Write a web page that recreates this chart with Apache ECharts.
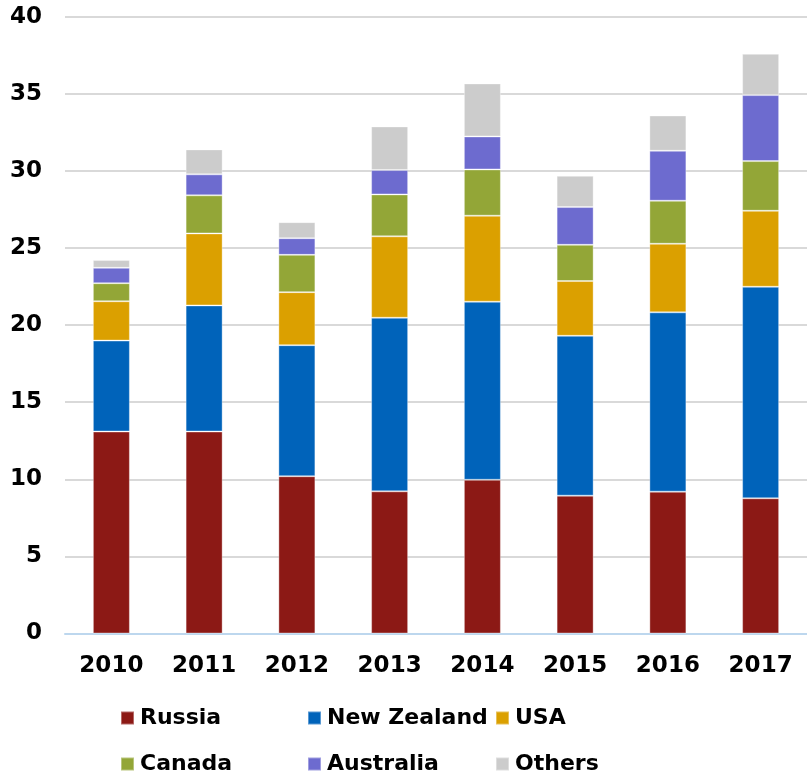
<!DOCTYPE html>
<html>
<head>
<meta charset="utf-8">
<script src="https://cdn.jsdelivr.net/npm/echarts@6/dist/echarts.min.js"></script>
<style>html,body{margin:0;padding:0;background:#fff}#c{width:807px;height:776px}</style>
</head>
<body>
<div id="c"></div>
<script>
var years = ['2010','2011','2012','2013','2014','2015','2016','2017'];
var seriesNames = ['Russia','New Zealand','USA','Canada','Australia','Others'];
var russia     = [13.1, 13.1, 10.2, 9.22, 9.97, 8.94, 9.2, 8.77];
var newZealand = [5.9, 8.18, 8.5, 11.26, 11.55, 10.37, 11.63, 13.72];
var usa        = [2.55, 4.67, 3.44, 5.28, 5.58, 3.55, 4.45, 4.93];
var canada     = [1.17, 2.47, 2.42, 2.72, 3.0, 2.35, 2.79, 3.22];
var australia  = [1.0, 1.36, 1.08, 1.58, 2.14, 2.45, 3.24, 4.28];
var others     = [0.5, 1.62, 1.04, 2.83, 3.44, 2.03, 2.29, 2.68];
var yTicks = [0, 5, 10, 15, 20, 25, 30, 35, 40];

var values = [russia, newZealand, usa, canada, australia, others];
var colors = ['#8C1915', '#0063BA', '#DBA000', '#93A637', '#6D6BCF', '#CCCCCC'];
var font = 'DejaVu Sans';

var chart = echarts.init(document.getElementById('c'), null, {renderer: 'canvas'});
var legendPos = [[120, 705], [307, 705], [495, 705], [120, 751], [307, 751], [495, 751]];
var legends = seriesNames.map(function (n, i) {
  return {
    data: [n],
    left: legendPos[i][0],
    top: legendPos[i][1],
    itemWidth: 13,
    itemHeight: 13,
    icon: 'rect',
    padding: 0,
    textStyle: {fontFamily: font, fontWeight: 'bold', fontSize: 22, color: '#000', lineHeight: 26, padding: [0, 0, 0, 1]}
  };
});

chart.setOption({
  animation: false,
  backgroundColor: '#fff',
  grid: {left: 65, top: 16.8, width: 745, height: 616.7, containLabel: false},
  legend: legends,
  xAxis: {
    type: 'category',
    data: years,
    axisLine: {show: true, lineStyle: {color: '#BDD7EE', width: 2}},
    axisTick: {show: false},
    axisLabel: {fontFamily: font, fontWeight: 'bold', fontSize: 23, color: '#000', margin: 21}
  },
  yAxis: {
    type: 'value',
    min: yTicks[0],
    max: yTicks[yTicks.length - 1],
    interval: 5,
    axisLine: {show: false},
    axisTick: {show: false},
    splitLine: {lineStyle: {color: '#D9D9D9', width: 2}},
    axisLabel: {fontFamily: font, fontWeight: 'bold', fontSize: 23, color: '#000', margin: 23}
  },
  series: seriesNames.map(function (n, i) {
    return {
      name: n,
      type: 'bar',
      stack: 'total',
      barWidth: 37,
      data: values[i],
      itemStyle: {color: colors[i], borderColor: 'rgba(255,255,255,0.35)', borderWidth: 1}
    };
  })
});
</script>
</body>
</html>
